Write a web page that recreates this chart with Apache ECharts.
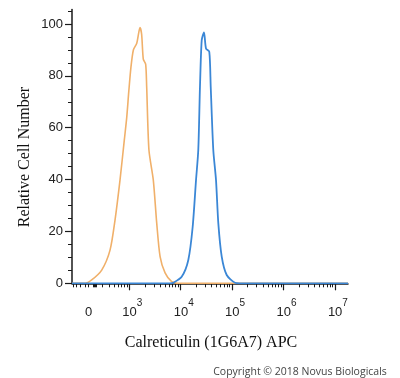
<!DOCTYPE html>
<html>
<head>
<meta charset="utf-8">
<script src="https://cdn.jsdelivr.net/npm/echarts@6/dist/echarts.min.js"></script>
<style>
html,body{margin:0;padding:0;background:#fff;}
#chart{width:400px;height:378px;}
</style>
</head>
<body>
<div id="chart"></div>
<script>
// x values are in display units: log10 of fluorescence (decades); y is relative cell number
const isotypeData = [
  [1.885,0],[2.138,0],[2.268,1.3],[2.463,5.1],[2.625,12.8],[2.722,24.4],[2.819,39.8],[2.903,55.3],
  [2.95,64],[2.99,74],[3.03,83],[3.079,90],[3.145,92.6],[3.208,98.6],[3.240,96],[3.272,86.5],[3.318,84.5],
  [3.338,75.8],[3.382,51.4],[3.467,39.8],[3.533,23.3],[3.599,10.3],[3.696,4.0],[3.825,0.6],[3.947,0],[7.255,0]
];
const antibodyData = [
  [1.885,0],[3.792,0],[3.856,0.2],[4.019,2.5],[4.148,9.0],[4.233,21.8],[4.298,39.8],[4.342,51.4],
  [4.375,75.8],[4.409,93.8],[4.453,96.8],[4.492,90.6],[4.556,89.3],[4.584,75.8],[4.634,51.4],
  [4.687,39.8],[4.732,23.1],[4.798,10.3],[4.895,3.2],[5.056,0.2],[5.154,0],[7.255,0]
];
const xTickPositions = [2.206, 3, 4, 5, 6, 7];
const xTickLabels = ['0', '3', '4', '5', '6', '7']; // '0' or exponent of 10
const yTickLabels = [0, 20, 40, 60, 80, 100];

const X_MIN = 1.885, X_MAX = 7.255, Y_MAX = 105.6;

// minor (log) ticks
const xMinor = [1.91, 1.977, 2.04, 2.138, 2.197, 2.32, 2.34, 2.36];
for (let n = 2; n <= 6; n++) {
  for (let k = 2; k <= 9; k++) xMinor.push(n + Math.log10(k));
}
const yMinor = [];
for (let v = 5; v <= 105; v += 5) if (v % 20 !== 0) yMinor.push(v);

const chart = echarts.init(document.getElementById('chart'), null, {renderer: 'canvas'});
const axisColor = '#1a1a1a';
const labelFont = 'Liberation Sans';

chart.setOption({
  backgroundColor: '#fff',
  animation: false,
  grid: {left: 72, right: 52, top: 9.5, bottom: 94.7},
  xAxis: [
    {
      type: 'value', min: X_MIN, max: X_MAX,
      splitLine: {show: false},
      axisLine: {show: true, lineStyle: {color: axisColor, width: 1.5}},
      axisTick: {show: true, length: 7, lineStyle: {color: axisColor, width: 1.2}, customValues: xTickPositions.slice(1)},
      axisLabel: {
        show: true, margin: 15, color: '#222',
        customValues: xTickPositions,
        formatter: function (v) {
          const i = xTickPositions.findIndex(p => Math.abs(p - v) < 1e-6);
          const lab = i >= 0 ? xTickLabels[i] : '';
          if (lab === '0') return '{sp0|}{b|0}';
          return '{sp|}{b|10}{s|' + lab + '}';
        },
        rich: {
          sp0: {width: 0, lineHeight: 21},
          sp: {width: 6, lineHeight: 21},
          b: {fontSize: 13, fontFamily: labelFont, lineHeight: 13, verticalAlign: 'bottom', color: '#222'},
          s: {fontSize: 10, fontFamily: labelFont, lineHeight: 10, verticalAlign: 'top', color: '#222'}
        }
      }
    },
    {
      type: 'value', min: X_MIN, max: X_MAX, position: 'bottom',
      splitLine: {show: false},
      axisLine: {show: false},
      axisLabel: {show: false},
      axisTick: {show: true, length: 4, lineStyle: {color: axisColor, width: 1}, customValues: xMinor}
    }
  ],
  yAxis: [
    {
      type: 'value', min: 0, max: Y_MAX,
      splitLine: {show: false},
      axisLine: {show: true, lineStyle: {color: axisColor, width: 1.5}},
      axisTick: {show: true, length: 7, lineStyle: {color: axisColor, width: 1.2}, customValues: yTickLabels},
      axisLabel: {show: true, margin: 9, color: '#222', fontSize: 13, fontFamily: labelFont, customValues: yTickLabels}
    },
    {
      type: 'value', min: 0, max: Y_MAX, position: 'left',
      splitLine: {show: false},
      axisLine: {show: false},
      axisLabel: {show: false},
      axisTick: {show: true, length: 4, lineStyle: {color: axisColor, width: 1}, customValues: yMinor}
    }
  ],
  series: [
    {
      name: 'Isotype', type: 'line', data: isotypeData, xAxisIndex: 0, yAxisIndex: 0,
      showSymbol: false, smooth: 0.25, z: 3,
      lineStyle: {color: '#F0B06A', width: 1.6}
    },
    {
      name: 'Calreticulin', type: 'line', data: antibodyData, xAxisIndex: 0, yAxisIndex: 0,
      showSymbol: false, smooth: 0.25, z: 4,
      lineStyle: {color: '#3B87D6', width: 1.8}
    }
  ],
  graphic: [
    {type: 'text', x: 25, y: 157, rotation: Math.PI / 2,
      style: {text: 'Relative Cell Number', font: '16px "Liberation Serif"', fill: '#111', align: 'center', verticalAlign: 'middle'}},
    {type: 'text', x: 211, y: 343,
      style: {text: 'Calreticulin (1G6A7) APC', font: '16px "Liberation Serif"', fill: '#111', align: 'center', verticalAlign: 'middle'}},
    {type: 'text', x: 300, y: 372.5,
      style: {text: 'Copyright © 2018 Novus Biologicals', font: '10.5px "Open Sans"', fill: '#444', align: 'center', verticalAlign: 'middle'}}
  ]
});
</script>
</body>
</html>
